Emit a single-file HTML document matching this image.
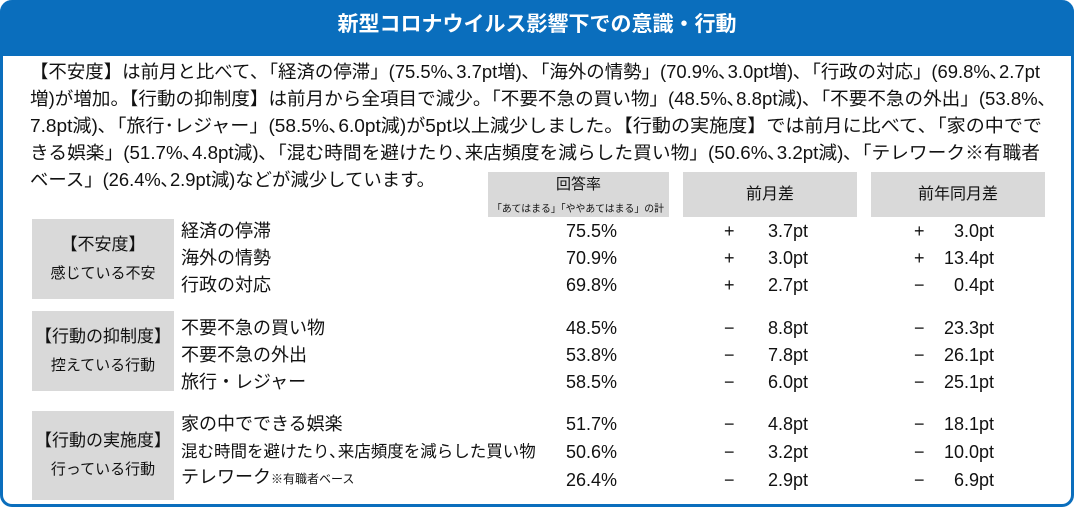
<!DOCTYPE html>
<html><head><meta charset="utf-8"><style>
body{margin:0;width:1078px;height:512px;background:#fff;font-family:"Liberation Sans","Noto Sans CJK JP",sans-serif;color:#111;position:relative;overflow:hidden}
.frame{position:absolute;left:0;top:0;width:1068px;height:504px;border:3px solid #0a6ebd;border-top:none;border-radius:12px;background:#fff}
.hdr{position:absolute;left:0;top:0;width:1074px;height:56px;background:#0a6ebd;border-radius:12px 12px 0 0;color:#fff;font-weight:bold;font-size:21px;text-align:center;line-height:50px}
svg{position:absolute;left:0;top:0}
.g{position:absolute;background:#d9d9d9}
.t{position:absolute;font-size:18px;line-height:27px;white-space:nowrap}
.c{text-align:center}
.r{text-align:right}
</style></head><body>
<div class="frame"></div>
<div class="hdr">新型コロナウイルス影響下での意識・行動</div>
<div class="g" style="left:488px;top:172px;width:181px;height:45px"></div>
<div class="g" style="left:683px;top:172px;width:174px;height:45px"></div>
<div class="g" style="left:871px;top:172px;width:174px;height:45px"></div>
<div class="g" style="left:32px;top:219px;width:142px;height:80px"></div>
<div class="g" style="left:32px;top:311px;width:142px;height:80px"></div>
<div class="g" style="left:32px;top:411px;width:142px;height:89px"></div>
<svg width="1078" height="512" font-family="Liberation Sans, Noto Sans CJK JP, sans-serif" font-size="18" fill="#111">
<text x="30" y="78" textLength="1010" lengthAdjust="spacingAndGlyphs">【不安度】は前月と比べて､「経済の停滞」(75.5%､3.7pt増)､「海外の情勢」(70.9%､3.0pt増)､「行政の対応」(69.8%､2.7pt</text>
<text x="30" y="105" textLength="1017" lengthAdjust="spacingAndGlyphs">増)が増加。【行動の抑制度】は前月から全項目で減少。「不要不急の買い物」(48.5%､8.8pt減)､「不要不急の外出」(53.8%､</text>
<text x="30" y="132" textLength="1012" lengthAdjust="spacingAndGlyphs">7.8pt減)､「旅行･レジャー」(58.5%､6.0pt減)が5pt以上減少しました。【行動の実施度】では前月に比べて､「家の中でで</text>
<text x="30" y="159" textLength="1010" lengthAdjust="spacingAndGlyphs">きる娯楽」(51.7%､4.8pt減)､「混む時間を避けたり､来店頻度を減らした買い物」(50.6%､3.2pt減)､「テレワーク※有職者</text>
<text x="30" y="186" textLength="405" lengthAdjust="spacingAndGlyphs">ベース」(26.4%､2.9pt減)などが減少しています。</text>
<text x="578" y="212" font-size="10" text-anchor="middle" textLength="172" lengthAdjust="spacingAndGlyphs">「あてはまる」「ややあてはまる」の計</text>
</svg>
<div class="t c" style="left:488px;top:175px;width:181px;font-size:15px;line-height:20px">回答率</div>
<div class="t c" style="left:683px;top:181px;width:174px;font-size:16px">前月差</div>
<div class="t c" style="left:871px;top:181px;width:174px;font-size:16px">前年同月差</div>

<div class="t c" style="left:30px;top:231px;width:146px;font-size:17px">【不安度】</div>
<div class="t c" style="left:30px;top:260px;width:146px;font-size:15px">感じている不安</div>
<div class="t c" style="left:30px;top:323px;width:146px;font-size:17px">【行動の抑制度】</div>
<div class="t c" style="left:30px;top:352px;width:146px;font-size:15px">控えている行動</div>
<div class="t c" style="left:30px;top:427px;width:146px;font-size:17px">【行動の実施度】</div>
<div class="t c" style="left:30px;top:456px;width:146px;font-size:15px">行っている行動</div>

<div class="t" style="left:181px;top:218px">経済の停滞</div>
<div class="t" style="left:181px;top:245px">海外の情勢</div>
<div class="t" style="left:181px;top:272px">行政の対応</div>
<div class="t" style="left:181px;top:315px">不要不急の買い物</div>
<div class="t" style="left:181px;top:342px">不要不急の外出</div>
<div class="t" style="left:181px;top:369px">旅行・レジャー</div>
<div class="t" style="left:181px;top:411px">家の中でできる娯楽</div>
<div class="t" style="left:181px;top:439px;font-size:16.5px">混む時間を避けたり､来店頻度を減らした買い物</div>
<div class="t" style="left:181px;top:464px">テレワーク<span style="font-size:12px">※有職者ベース</span></div>

<div class="t r" style="left:520px;width:97px;top:218px">75.5%</div>
<div class="t r" style="left:520px;width:97px;top:245px">70.9%</div>
<div class="t r" style="left:520px;width:97px;top:272px">69.8%</div>
<div class="t r" style="left:520px;width:97px;top:315px">48.5%</div>
<div class="t r" style="left:520px;width:97px;top:342px">53.8%</div>
<div class="t r" style="left:520px;width:97px;top:369px">58.5%</div>
<div class="t r" style="left:520px;width:97px;top:411px">51.7%</div>
<div class="t r" style="left:520px;width:97px;top:439px">50.6%</div>
<div class="t r" style="left:520px;width:97px;top:467px">26.4%</div>

<div class="t" style="left:724px;top:218px">+</div><div class="t r" style="left:740px;width:68px;top:218px">3.7pt</div>
<div class="t" style="left:724px;top:245px">+</div><div class="t r" style="left:740px;width:68px;top:245px">3.0pt</div>
<div class="t" style="left:724px;top:272px">+</div><div class="t r" style="left:740px;width:68px;top:272px">2.7pt</div>
<div class="t" style="left:724px;top:315px">−</div><div class="t r" style="left:740px;width:68px;top:315px">8.8pt</div>
<div class="t" style="left:724px;top:342px">−</div><div class="t r" style="left:740px;width:68px;top:342px">7.8pt</div>
<div class="t" style="left:724px;top:369px">−</div><div class="t r" style="left:740px;width:68px;top:369px">6.0pt</div>
<div class="t" style="left:724px;top:411px">−</div><div class="t r" style="left:740px;width:68px;top:411px">4.8pt</div>
<div class="t" style="left:724px;top:439px">−</div><div class="t r" style="left:740px;width:68px;top:439px">3.2pt</div>
<div class="t" style="left:724px;top:467px">−</div><div class="t r" style="left:740px;width:68px;top:467px">2.9pt</div>

<div class="t" style="left:914px;top:218px">+</div><div class="t r" style="left:930px;width:64px;top:218px">3.0pt</div>
<div class="t" style="left:914px;top:245px">+</div><div class="t r" style="left:930px;width:64px;top:245px">13.4pt</div>
<div class="t" style="left:914px;top:272px">−</div><div class="t r" style="left:930px;width:64px;top:272px">0.4pt</div>
<div class="t" style="left:914px;top:315px">−</div><div class="t r" style="left:930px;width:64px;top:315px">23.3pt</div>
<div class="t" style="left:914px;top:342px">−</div><div class="t r" style="left:930px;width:64px;top:342px">26.1pt</div>
<div class="t" style="left:914px;top:369px">−</div><div class="t r" style="left:930px;width:64px;top:369px">25.1pt</div>
<div class="t" style="left:914px;top:411px">−</div><div class="t r" style="left:930px;width:64px;top:411px">18.1pt</div>
<div class="t" style="left:914px;top:439px">−</div><div class="t r" style="left:930px;width:64px;top:439px">10.0pt</div>
<div class="t" style="left:914px;top:467px">−</div><div class="t r" style="left:930px;width:64px;top:467px">6.9pt</div>
</body></html>
